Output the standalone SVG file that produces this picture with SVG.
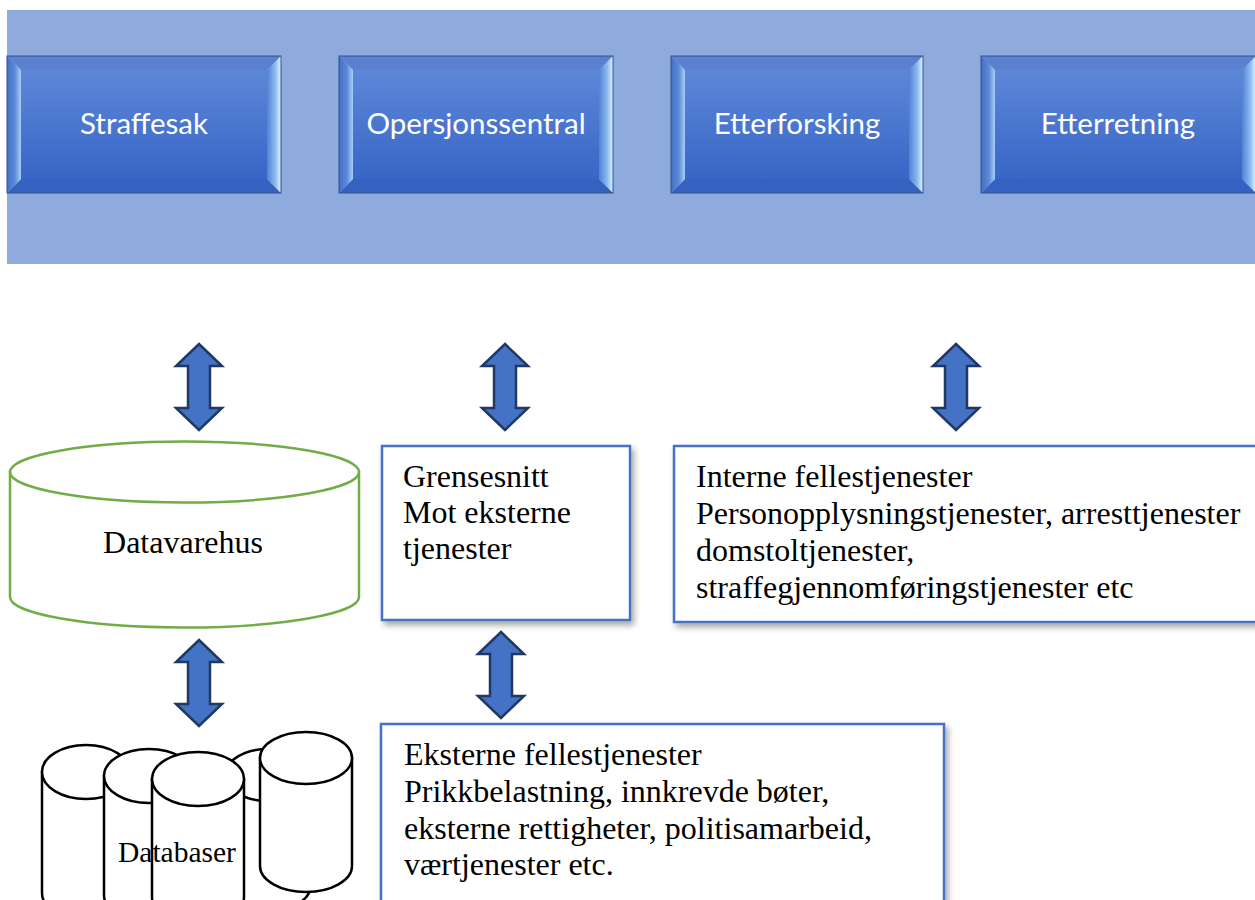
<svg xmlns="http://www.w3.org/2000/svg" width="1255" height="900" viewBox="0 0 1255 900">
<defs>
  <linearGradient id="gFace" x1="0" y1="0" x2="0" y2="1">
    <stop offset="0" stop-color="#5D87D8"/>
    <stop offset="1" stop-color="#3866C6"/>
  </linearGradient>
  <linearGradient id="gLeft" x1="0" y1="0" x2="1" y2="0">
    <stop offset="0" stop-color="#4570C6"/>
    <stop offset="0.55" stop-color="#5B88D6"/>
    <stop offset="1" stop-color="#A9CFF8"/>
  </linearGradient>
  <linearGradient id="gRight" x1="0" y1="0" x2="1" y2="0">
    <stop offset="0" stop-color="#5282D4"/>
    <stop offset="0.6" stop-color="#8DBBF0"/>
    <stop offset="1" stop-color="#E6F6FF"/>
  </linearGradient>
  <filter id="shadow" x="-10%" y="-10%" width="130%" height="140%">
    <feDropShadow dx="3" dy="4" stdDeviation="3" flood-color="#000" flood-opacity="0.35"/>
  </filter>
  <path id="dblArrow" d="M0,0 L23,22 L11,22 L11,64 L23,64 L0,86 L-23,64 L-11,64 L-11,22 L-23,22 Z"/>
  <style>
    .band { fill: #8FAADC; }
    .top { fill: #5A80CF; }
    .bot { fill: #3562C0; }
    .lft { fill: url(#gLeft); }
    .rgt { fill: url(#gRight); }
    .face { fill: url(#gFace); }
    .edge { fill: none; stroke: #2F528F; stroke-width: 1; }
    .btxt { font-family: Lato, "Liberation Sans", sans-serif; font-size: 29.5px; fill: #FFFFFF; text-anchor: middle; }
    .box { fill: #FFFFFF; stroke: #4472C4; stroke-width: 2.5; }
    .serif { font-family: "Liberation Serif", "Times New Roman", serif; font-size: 32px; fill: #000000; }
    .arrow { fill: #4472C4; stroke: #1F3864; stroke-width: 2.5; stroke-linejoin: miter; }
    .cyl { fill: #FFFFFF; stroke: #000000; stroke-width: 2.5; }
    .dwh { fill: #FFFFFF; stroke: #70AD47; stroke-width: 2.5; }
  </style>
</defs>

<rect class="band" x="7" y="10" width="1260" height="254"/>

<g id="straffesak">
  <polygon class="top" points="7,56 281,56 267,70 21,70"/>
  <polygon class="bot" points="7,193 281,193 267,179 21,179"/>
  <polygon class="lft" points="7,56 21,70 21,179 7,193"/>
  <polygon class="rgt" points="281,56 267,70 267,179 281,193"/>
  <rect class="face" x="21" y="70" width="246" height="109"/>
  <rect class="edge" x="7" y="56" width="274" height="137"/>
  <text class="btxt" x="144" y="134">Straffesak</text>
</g>

<g id="opersjonssentral">
  <polygon class="top" points="339,56 613,56 599,70 353,70"/>
  <polygon class="bot" points="339,193 613,193 599,179 353,179"/>
  <polygon class="lft" points="339,56 353,70 353,179 339,193"/>
  <polygon class="rgt" points="613,56 599,70 599,179 613,193"/>
  <rect class="face" x="353" y="70" width="246" height="109"/>
  <rect class="edge" x="339" y="56" width="274" height="137"/>
  <text class="btxt" x="476" y="134">Opersjonssentral</text>
</g>

<g id="etterforsking">
  <polygon class="top" points="671,56 923,56 909,70 685,70"/>
  <polygon class="bot" points="671,193 923,193 909,179 685,179"/>
  <polygon class="lft" points="671,56 685,70 685,179 671,193"/>
  <polygon class="rgt" points="923,56 909,70 909,179 923,193"/>
  <rect class="face" x="685" y="70" width="224" height="109"/>
  <rect class="edge" x="671" y="56" width="252" height="137"/>
  <text class="btxt" x="797" y="134">Etterforsking</text>
</g>

<g id="etterretning">
  <polygon class="top" points="981,56 1256,56 1242,70 995,70"/>
  <polygon class="bot" points="981,193 1256,193 1242,179 995,179"/>
  <polygon class="lft" points="981,56 995,70 995,179 981,193"/>
  <polygon class="rgt" points="1256,56 1242,70 1242,179 1256,193"/>
  <rect class="face" x="995" y="70" width="247" height="109"/>
  <rect class="edge" x="981" y="56" width="275" height="137"/>
  <text class="btxt" x="1118" y="134">Etterretning</text>
</g>

<g id="connectors">
  <use href="#dblArrow" class="arrow" x="199" y="344"/>
  <use href="#dblArrow" class="arrow" x="505" y="344"/>
  <use href="#dblArrow" class="arrow" x="956" y="344"/>
  <use href="#dblArrow" class="arrow" x="199" y="640"/>
  <use href="#dblArrow" class="arrow" x="501" y="632"/>
</g>

<g id="datavarehus">
  <path class="dwh" d="M10,472 L10,597 A174.5,30.5 0 0 0 359,597 L359,472 Z"/>
  <ellipse class="dwh" cx="184.5" cy="472" rx="174.5" ry="30.5"/>
  <text class="serif" x="183" y="553" text-anchor="middle">Datavarehus</text>
</g>

<g id="grensesnitt">
  <rect class="box" x="382" y="446" width="248" height="174" filter="url(#shadow)"/>
  <text class="serif" x="403" y="487">Grensesnitt</text>
  <text class="serif" x="403" y="523">Mot eksterne</text>
  <text class="serif" x="403" y="559">tjenester</text>
</g>

<g id="interne">
  <rect class="box" x="674" y="446" width="600" height="176" filter="url(#shadow)"/>
  <text class="serif" x="696" y="487">Interne fellestjenester</text>
  <text class="serif" x="696" y="524">Personopplysningstjenester, arresttjenester</text>
  <text class="serif" x="696" y="561">domstoltjenester,</text>
  <text class="serif" x="696" y="598">straffegjennomføringstjenester etc</text>
</g>

<g id="eksterne">
  <rect class="box" x="381" y="724" width="563" height="200" filter="url(#shadow)"/>
  <text class="serif" x="404" y="765">Eksterne fellestjenester</text>
  <text class="serif" x="404" y="802">Prikkbelastning, innkrevde bøter,</text>
  <text class="serif" x="404" y="839">eksterne rettigheter, politisamarbeid,</text>
  <text class="serif" x="404" y="875">værtjenester etc.</text>
</g>

<g id="databaser">
  <path class="cyl" d="M42,772 L42,893 A44,27 0 0 0 130,893 L130,772 Z"/>
  <ellipse class="cyl" cx="86" cy="772" rx="44" ry="27"/>
  <path class="cyl" d="M104,776 L104,895 A45,27 0 0 0 194,895 L194,776 Z"/>
  <ellipse class="cyl" cx="149" cy="776" rx="45" ry="27"/>
  <path class="cyl" d="M225,775 L225,885 A43,26 0 0 0 311,885 L311,775 Z"/>
  <ellipse class="cyl" cx="268" cy="775" rx="43" ry="26"/>
  <path class="cyl" d="M152,779 L152,897 A46,27 0 0 0 244,897 L244,779 Z"/>
  <ellipse class="cyl" cx="198" cy="779" rx="46" ry="27"/>
  <path class="cyl" d="M260,758 L260,866 A46,26 0 0 0 352,866 L352,758 Z"/>
  <ellipse class="cyl" cx="306" cy="758" rx="46" ry="26"/>
  <text class="serif" x="118" y="862" style="font-size:29.5px">Databaser</text>
</g>
</svg>
